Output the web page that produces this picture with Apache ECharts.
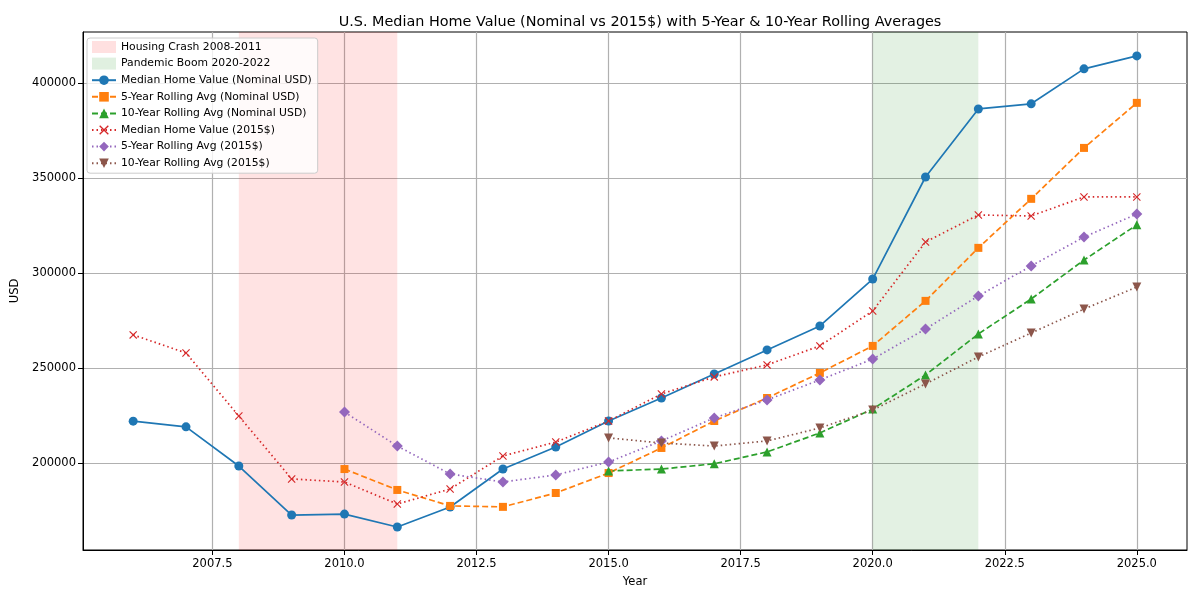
<!DOCTYPE html>
<html>
<head>
<meta charset="utf-8">
<script src="https://cdn.jsdelivr.net/npm/echarts@6/dist/echarts.min.js"></script>
<style>html,body{margin:0;padding:0;background:#fff}#c{width:1200px;height:600px}</style>
</head>
<body>
<div id="c"></div>
<script>
const years = [2006,2007,2008,2009,2010,2011,2012,2013,2014,2015,2016,2017,2018,2019,2020,2021,2022,2023,2024,2025];
const nominal = [222000,219000,198400,172600,173100,166300,176800,196800,208400,222100,234200,246800,259500,272100,296800,350500,386300,389000,407400,414200];
const nominal5 = [null,null,null,null,196800,185800,177400,176900,184200,194700,207900,222100,234200,247400,261600,285300,313200,339000,365800,389500];
const nominal10 = [null,null,null,null,null,null,null,null,null,195800,196800,199600,205800,215800,228400,246300,267900,286300,306800,325300];
const real = [267400,257900,224700,191600,190000,178400,186300,203700,211000,222100,236300,245300,251600,261600,280000,316300,330500,330000,340000,340000];
const real5 = [null,null,null,null,226800,208900,194200,190000,193700,200500,211600,223700,233200,243700,254700,270500,287900,303700,318900,331000];
const real10 = [null,null,null,null,null,null,null,null,null,213200,210500,208900,211600,218400,227900,241600,255800,268400,281000,292600];
const xTicks = [2007.5,2010,2012.5,2015,2017.5,2020,2022.5,2025];
const yTicks = [200000,250000,300000,350000,400000];
const crash = [2008, 2011];
const boom = [2020, 2022];

function pairs(vals){ const out=[]; years.forEach((y,i)=>{ if(vals[i]!==null) out.push([y, vals[i]]); }); return out; }

const FONT = 'DejaVu Sans';
const xSym = 'path://M0,1 L1,0 L5,4 L9,0 L10,1 L6,5 L10,9 L9,10 L5,6 L1,10 L0,9 L4,5 Z';
const triDown = 'path://M0,0 L10,0 L5,10 Z';

function lineSeries(name, vals, color, type, symbol, size){
  return {
    name, type:'line', data: pairs(vals), z: 5,
    symbol, symbolSize: size, showSymbol: true,
    itemStyle: {color, borderColor: color, borderWidth: 0},
    lineStyle: {color, width: 1.7, type},
    emphasis: {disabled: true}, animation: false
  };
}

const chart = echarts.init(document.getElementById('c'), null, {renderer:'canvas'});
chart.setOption({
  animation: false,
  backgroundColor: '#fff',
  title: {
    text: 'U.S. Median Home Value (Nominal vs 2015$) with 5-Year & 10-Year Rolling Averages',
    left: 635, top: 10, textAlign: 'center',
    textStyle: {fontFamily: FONT, fontSize: 14.4, fontWeight: 'normal', color: '#000'}
  },
  grid: {left: 83, right: 13, top: 32, bottom: 50, containLabel: false,
    show: true, borderColor: '#000', borderWidth: 1, backgroundColor: 'transparent'},
  legend: {
    orient: 'vertical', left: 87, top: 38,
    padding: [3, 6, 4, 4], itemGap: 4.6, itemWidth: 24, itemHeight: 12,
    backgroundColor: 'rgba(255,255,255,0.8)', borderColor: '#cccccc', borderWidth: 1, borderRadius: 3,
    textStyle: {fontFamily: FONT, fontSize: 10.8, color: '#000', lineHeight: 12},
    data: [
      {name:'Housing Crash 2008-2011', icon:'rect'},
      {name:'Pandemic Boom 2020-2022', icon:'rect'},
      'Median Home Value (Nominal USD)',
      '5-Year Rolling Avg (Nominal USD)',
      '10-Year Rolling Avg (Nominal USD)',
      'Median Home Value (2015$)',
      '5-Year Rolling Avg (2015$)',
      '10-Year Rolling Avg (2015$)'
    ]
  },
  xAxis: {
    type: 'value', min: 2005.05, max: 2025.95,
    name: 'Year', nameLocation: 'middle', nameGap: 26,
    nameTextStyle: {fontFamily: FONT, fontSize: 11.5, color: '#000'},
    axisLine: {show: true, onZero: false, lineStyle: {color: '#000', width: 1}},
    axisTick: {show: true, inside: false, length: 5, lineStyle: {color: '#000'}, customValues: xTicks},
    axisLabel: {customValues: xTicks, formatter: v => v.toFixed(1), fontFamily: FONT, fontSize: 11.5, color: '#000', margin: 8},
    splitLine: {show: true, lineStyle: {color: '#b0b0b0', width: 1.2}}
  },
  yAxis: {
    type: 'value', min: 154200, max: 426800,
    name: 'USD', nameLocation: 'middle', nameGap: 54, nameRotate: 90,
    nameTextStyle: {fontFamily: FONT, fontSize: 11.5, color: '#000'},
    axisLine: {show: true, lineStyle: {color: '#000', width: 1}},
    axisTick: {show: true, inside: false, length: 5, lineStyle: {color: '#000'}, customValues: yTicks},
    axisLabel: {customValues: yTicks, formatter: v => String(Math.round(v)), fontFamily: FONT, fontSize: 11.5, color: '#000', margin: 7},
    splitLine: {show: true, lineStyle: {color: '#b0b0b0', width: 1.2}}
  },
  series: [
    {name:'Housing Crash 2008-2011', type:'line', data:[], z:1,
      itemStyle:{color:'rgba(255,0,0,0.12)'}, lineStyle:{color:'rgba(255,0,0,0.12)'},
      markArea:{silent:true, itemStyle:{color:'rgba(255,0,0,0.11)'}, data:[[{xAxis:crash[0]},{xAxis:crash[1]}]]}},
    {name:'Pandemic Boom 2020-2022', type:'line', data:[], z:1,
      itemStyle:{color:'rgba(0,128,0,0.12)'}, lineStyle:{color:'rgba(0,128,0,0.12)'},
      markArea:{silent:true, itemStyle:{color:'rgba(0,128,0,0.11)'}, data:[[{xAxis:boom[0]},{xAxis:boom[1]}]]}},
    lineSeries('Median Home Value (Nominal USD)', nominal, '#1f77b4', 'solid', 'circle', 9),
    lineSeries('5-Year Rolling Avg (Nominal USD)', nominal5, '#ff7f0e', [6,3], 'rect', 8),
    lineSeries('10-Year Rolling Avg (Nominal USD)', nominal10, '#2ca02c', [6,3], 'triangle', 9),
    lineSeries('Median Home Value (2015$)', real, '#d62728', [1.5,3], xSym, 8),
    lineSeries('5-Year Rolling Avg (2015$)', real5, '#9467bd', [1.5,3], 'diamond', 11),
    lineSeries('10-Year Rolling Avg (2015$)', real10, '#8c564b', [1.5,3], triDown, 9)
  ]
});
</script>
</body>
</html>
